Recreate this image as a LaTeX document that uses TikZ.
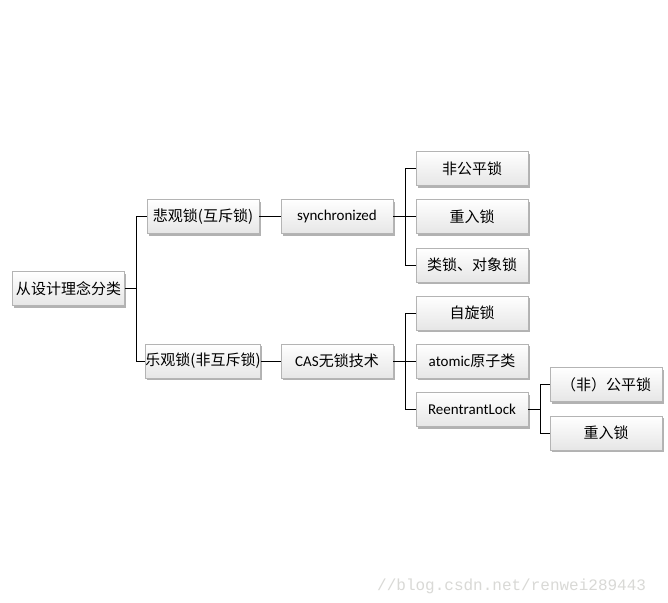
\documentclass[tikz,border=0pt]{standalone}
\usepackage{fontspec}
\setmainfont{Carlito}
\newfontfamily\cjk{Noto Sans CJK SC}
\newfontfamily\markfont{Liberation Mono}
\usetikzlibrary{calc,shadows}
\definecolor{edge}{HTML}{B4B4B4}
\definecolor{shade}{HTML}{E6E6E6}
\definecolor{wmgray}{HTML}{D9D9D6}

\tikzset{
  box/.style={draw=edge,line width=.5pt,top color=white,bottom color=shade,
    minimum width=112pt,minimum height=34pt,inner sep=0pt,
    font=\fontsize{15}{17}\selectfont,
    drop shadow={shadow xshift=1.5pt,shadow yshift=-2pt,fill=black,opacity=.3}},
  link/.style={draw=black,line width=.8pt}
}

\begin{document}
\begin{tikzpicture}[x=1pt,y=1pt]
  \useasboundingbox[fill=white] (0,0) rectangle (668,-602);

  % level 0 and 1
  \node[box] (root) at (68.5,-288.5) {\cjk 从设计理念分类};
  \node[box] (pess) at (203,-216.5) {\cjk 悲观锁(互斥锁)};
  \node[box] (opt)  at (203,-361) {\cjk 乐观锁(非互斥锁)};

  % level 2
  \node[box] (sync) at (337,-216.5) {synchronized};
  \node[box] (cas)  at (337,-361) {CAS{\cjk 无锁技术}};

  % level 3
  \node[box] (unfair) at (472,-168.5) {\cjk 非公平锁};
  \node[box] (reent)  at (472,-216.5) {\cjk 重入锁};
  \node[box] (objlk)  at (472,-265) {\cjk 类锁、对象锁};
  \node[box] (spin)   at (472,-313) {\cjk 自旋锁};
  \node[box] (atom)   at (472,-361) {atomic{\cjk 原子类}};
  \node[box] (rlock)  at (472,-409.5) {ReentrantLock};

  % level 4
  \node[box] (fair)   at (606,-384.5) {\cjk （非）公平锁};
  \node[box] (reent2) at (606,-433) {\cjk 重入锁};

  % elbow joints
  \coordinate (j0) at ($(root.east)+(12,0)$);
  \coordinate (j1) at ($(sync.east)+(12,0)$);
  \coordinate (j2) at ($(cas.east)+(12,0)$);
  \coordinate (j3) at ($(rlock.east)+(12,0)$);

  \draw[link] (root.east) -- (j0);
  \draw[link] (pess.west) -| (j0) |- (opt.west);
  \draw[link] (pess.east) -- (sync.west);
  \draw[link] (opt.east) -- (cas.west);

  \draw[link] (sync.east) -- (reent.west);
  \draw[link] (unfair.west) -| (j1) |- (objlk.west);
  \draw[link] (cas.east) -- (atom.west);
  \draw[link] (spin.west) -| (j2) |- (rlock.west);

  \draw[link] (rlock.east) -- (j3);
  \draw[link] (fair.west) -| (j3) |- (reent2.west);

  % watermark
  \node[wmgray,anchor=base west,inner sep=0pt,font=\markfont\fontsize{16}{16}\selectfont]
    (wmark) at (377,-590) {//blog.csdn.net/renwei289443};
\end{tikzpicture}
\end{document}
